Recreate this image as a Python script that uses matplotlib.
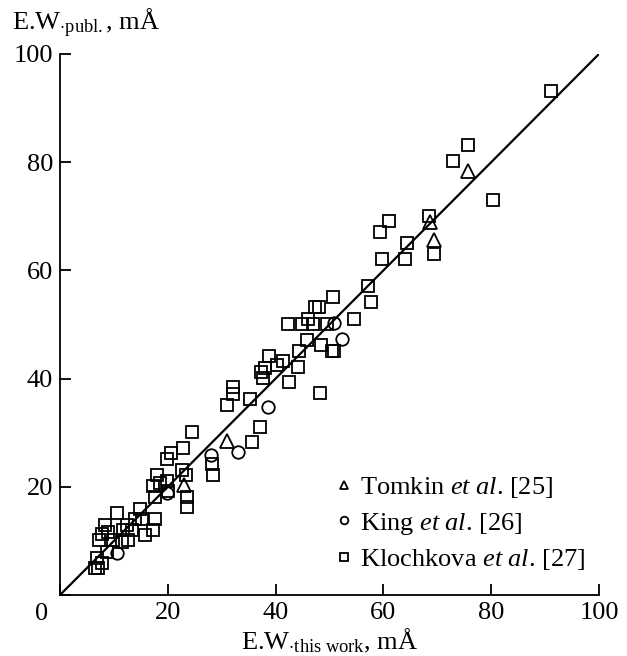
import matplotlib
matplotlib.use("Agg")
import matplotlib.pyplot as plt
import numpy as np

plt.rcParams['font.family'] = ['Liberation Serif', 'DejaVu Serif']
plt.rcParams['mathtext.fontset'] = 'custom'
plt.rcParams['mathtext.rm'] = 'Liberation Serif'
plt.rcParams['mathtext.it'] = 'Liberation Serif:italic'

# Equivalent widths, mÅ: (this work, published)
tomkin_x = [23.0, 31.0, 68.6, 69.4, 75.7]
tomkin_y = [20.4, 28.4, 68.9, 65.6, 78.4]

king_x = [10.6, 19.8, 28.1, 33.0, 38.6, 50.8, 52.3]
king_y = [7.8, 18.9, 25.8, 26.4, 34.8, 50.2, 47.4]

klochkova_x = [91.1, 80.3, 75.7, 72.9, 68.5, 69.4, 61.1, 59.4, 64.3, 59.7,
               64.0, 57.2, 57.7, 50.6, 54.5, 47.3, 48.0, 46.0, 42.3, 44.9,
               46.9, 49.5, 45.8, 48.4, 44.3, 50.4, 50.9, 41.3, 38.8, 40.3,
               38.0, 37.3, 37.6, 44.2, 42.5, 48.2, 32.1, 32.1, 35.3, 31.0,
               37.1, 35.6, 24.5, 22.9, 20.6, 19.8, 28.2, 23.3, 22.6, 28.4,
               18.0, 17.3, 18.6, 19.8, 17.6, 23.5, 23.5, 10.6, 14.8, 14.0,
               15.2, 17.6, 8.3, 12.4, 13.4, 17.3, 15.8, 7.8, 11.7, 9.8,
               7.2, 12.6, 11.5, 8.7, 6.9, 7.8, 6.5, 7.1, 8.9, 20.0]
klochkova_y = [93.2, 73.1, 83.2, 80.2, 70.0, 63.1, 69.1, 67.1, 65.1, 62.1,
               62.1, 57.1, 54.2, 55.1, 51.0, 53.2, 53.2, 51.1, 50.1, 50.1,
               50.1, 50.1, 47.1, 46.2, 45.1, 45.1, 45.1, 43.3, 44.2, 42.6,
               42.0, 41.2, 40.1, 42.1, 39.4, 37.3, 38.4, 37.1, 36.2, 35.1,
               31.1, 28.2, 30.1, 27.1, 26.2, 25.1, 24.2, 22.2, 23.1, 22.2,
               22.2, 20.1, 20.7, 21.1, 18.1, 18.1, 16.2, 15.2, 15.9, 14.1,
               14.0, 14.1, 12.9, 12.9, 12.0, 12.0, 11.1, 11.3, 12.0, 10.2,
               10.2, 10.2, 9.8, 7.9, 6.8, 5.9, 5.0, 5.0, 11.6, 19.2]

ticks = [0, 20, 40, 60, 80, 100]
fs = 19

fig = plt.figure(figsize=(6.27, 6.56), dpi=100)
ax = fig.add_axes([60 / 627, 1 - 595 / 656, 539 / 627, 541 / 656])

ax.plot([0, 100], [0, 100], color='black', lw=1.6, zorder=2)

mk = dict(linestyle='none', markerfacecolor='none', markeredgecolor='black',
          markeredgewidth=1.3, clip_on=False, zorder=3)
ax.plot(tomkin_x, tomkin_y, marker='^', markersize=9.5, **mk)
ax.plot(king_x, king_y, marker='o', markersize=9, **mk)
ax.plot(klochkova_x, klochkova_y, marker='s', markersize=9, **mk)

# legend entries with small markers
h1, = ax.plot([], [], marker='^', markersize=5.5, **mk)
h2, = ax.plot([], [], marker='o', markersize=5.5, **mk)
h3, = ax.plot([], [], marker='s', markersize=5.5, **mk)
leg = ax.legend([h1, h2, h3],
                [r'Tomkin $\mathit{et\ al}$. [25]',
                 r'King $\mathit{et\ al}$. [26]',
                 r'Klochkova $\mathit{et\ al}$. [27]'],
                loc='upper left', bbox_to_anchor=(339 / 627, 1 - 475 / 656),
                bbox_transform=fig.transFigure, frameon=False, fontsize=fs,
                borderpad=0, borderaxespad=0, handlelength=0.4,
                handletextpad=0.4, labelspacing=0.4, numpoints=1)

ax.set_xlim(0, 100)
ax.set_ylim(0, 100)
ax.spines['top'].set_visible(False)
ax.spines['right'].set_visible(False)
for s in ('left', 'bottom'):
    ax.spines[s].set_linewidth(1.3)

ax.set_xticks(ticks)
ax.set_xticklabels([''] + [str(t) for t in ticks[1:]])
ax.set_yticks(ticks)
ax.set_yticklabels([''] + [str(t) for t in ticks[1:]])
ax.tick_params(direction='in', length=8, width=1.3, labelsize=fs, pad=5)

ax.annotate('0', xy=(0, 0), xytext=(-13, -6), textcoords='offset points',
            ha='center', va='top', fontsize=fs)

fig.text(330 / 627, 1 - 641 / 656, r'E.W$_{\cdot\mathrm{this\ work}}$, mÅ',
         ha='center', va='center', fontsize=fs)
fig.text(12 / 627, 1 - 23 / 656, r'E.W$_{\cdot\mathrm{publ.}}$, mÅ',
         ha='left', va='center', fontsize=fs)

fig.savefig('out.png', dpi=100)
